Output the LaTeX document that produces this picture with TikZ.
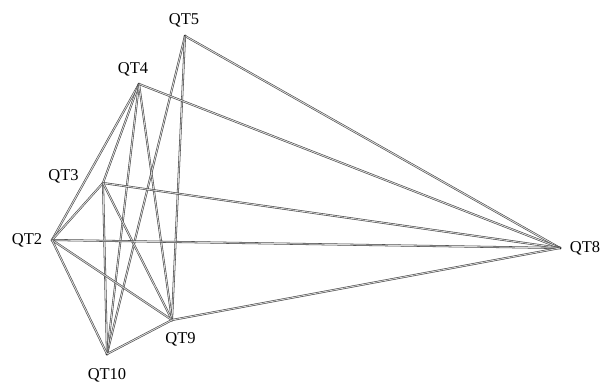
\documentclass[tikz,border=0pt]{standalone}
\usepackage{fontspec}
\setmainfont{Liberation Serif}
\usetikzlibrary{positioning}
\tikzset{
  qpt/.style={circle, fill=black, inner sep=0pt, minimum size=3pt},
  qlbl/.style={font=\fontsize{16.5}{16.5}\selectfont, inner sep=1pt},
  qedge/.style={draw=black!75, line width=0.55pt, double=black!15, double distance=0.9pt}
}
\begin{document}
\begin{tikzpicture}[x=1pt, y=-1pt]
  \useasboundingbox (0,0) rectangle (607,383);
  % points
  \node[qpt] (qt5) at (185,36) {};
  \node[qpt] (qt4) at (139,84) {};
  \node[qpt] (qt3) at (103,183) {};
  \node[qpt] (qt2) at (52,240) {};
  \node[qpt] (qt10) at (107,354) {};
  \node[qpt] (qt9) at (172,320) {};
  \node[qpt] (qt8) at (560,248) {};
  % connections
  \foreach \a/\b in {qt5/qt8, qt5/qt10, qt5/qt9,
                     qt4/qt8, qt4/qt2, qt4/qt3, qt4/qt10, qt4/qt9,
                     qt3/qt8, qt3/qt2, qt3/qt10, qt3/qt9,
                     qt2/qt8, qt2/qt9, qt2/qt10,
                     qt10/qt9, qt9/qt8}
    \draw[qedge] (\a.center) -- (\b.center);
  % labels
  \node[qlbl, above=6pt of qt5, xshift=-1pt] (l5) {QT5};
  \node[qlbl, above=5pt of qt4, xshift=-6pt] (l4) {QT4};
  \node[qlbl, above left=-3pt and 22pt of qt3] (l3) {QT3};
  \node[qlbl, left=7pt of qt2] (l2) {QT2};
  \node[qlbl, below=12pt of qt10] (l10) {QT10};
  \node[qlbl, below right=10pt and -9pt of qt9] (l9) {QT9};
  \node[qlbl, right=7pt of qt8] (l8) {QT8};
\end{tikzpicture}
\end{document}
